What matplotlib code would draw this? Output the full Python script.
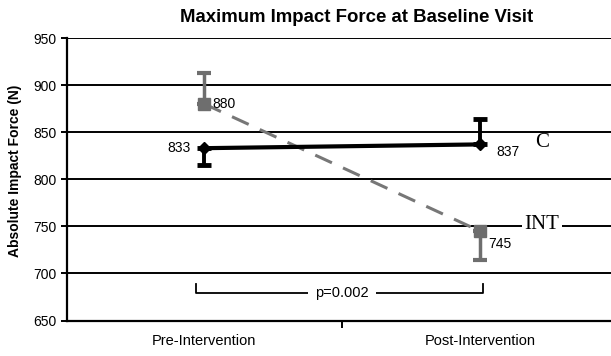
import matplotlib
matplotlib.use("Agg")
import matplotlib.pyplot as plt

categories = ["Pre-Intervention", "Post-Intervention"]
c_values = [833, 837]
c_err_lower = [18, 0]
c_err_upper = [0, 27]
int_values = [880, 745]
int_err_lower = [0, 31]
int_err_upper = [33, 0]
y_ticks = [650, 700, 750, 800, 850, 900, 950]
p_label = "p=0.002"

plt.rcParams['font.family'] = ['Liberation Sans', 'DejaVu Sans']

fig = plt.figure(figsize=(6.11, 3.56), dpi=100)
W, H = 611, 356
left_px, right_px, top_px, bot_px = 66.5, 611, 38, 320.5
ax = fig.add_axes([left_px / W, 1 - bot_px / H, (right_px - left_px) / W, (bot_px - top_px) / H])

ax.set_ylim(650, 950)
ax.set_xlim(-0.5, 1.476)
ax.set_yticks(y_ticks)
ax.set_yticklabels([str(v) for v in y_ticks], fontsize=10)
for v in y_ticks:
    ax.axhline(v, color='black', lw=1.4, zorder=1)

ax.set_xticks([0.5])
ax.set_xticklabels([""])
ax.tick_params(axis='x', length=5, width=1.4, direction='out')
ax.tick_params(axis='y', length=4, width=1.4, direction='out', pad=3)
for i, c in enumerate(categories):
    ax.text(i, -0.071, c, transform=ax.get_xaxis_transform(), ha='center', va='center', fontsize=10.5)

for s in ['top', 'right']:
    ax.spines[s].set_visible(False)
ax.spines['left'].set_linewidth(1.6)
ax.spines['bottom'].set_linewidth(1.6)

x = [0, 1]
# INT series
ax.errorbar(x, int_values, yerr=[int_err_lower, int_err_upper], fmt='none',
            ecolor='#6e6e6e', elinewidth=2.5, capsize=5, capthick=3, zorder=3)
ax.plot(x, int_values, color='#777777', lw=2.2, ls=(0, (6, 4)), zorder=3)
ax.plot(x, int_values, ls='none', marker='s', ms=8.5, color='#6e6e6e', zorder=4)
# C series
ax.errorbar(x, c_values, yerr=[c_err_lower, c_err_upper], fmt='none',
            ecolor='black', elinewidth=2.8, capsize=5, capthick=3.5, zorder=5)
ax.plot(x, c_values, color='black', lw=3, marker='D', ms=6, zorder=6)

# value labels
ax.text(0.03, int_values[0], str(int_values[0]), ha='left', va='center', fontsize=10, zorder=7)
ax.text(-0.05, c_values[0], str(c_values[0]), ha='right', va='center', fontsize=10, zorder=7)
ax.text(1.06, c_values[1] - 8, str(c_values[1]), ha='left', va='center', fontsize=10, zorder=7)
ax.text(1.03, int_values[1] - 14, str(int_values[1]), ha='left', va='center', fontsize=10, zorder=7)

# series names
ax.text(1.226, 839, "C", ha='center', va='center', fontsize=15, family='Liberation Serif', zorder=7)
ax.text(1.226, 752, "INT", ha='center', va='center', fontsize=15, family='Liberation Serif', zorder=7,
        bbox=dict(facecolor='white', edgecolor='none', pad=2))

# significance bracket
yb, yt = 679, 689
ax.plot([-0.03, -0.03, 1.01, 1.01], [yt, yb, yb, yt], color='black', lw=1.3, zorder=2)
ax.text(0.5, yb, p_label, ha='center', va='center', fontsize=10.5, zorder=7,
        bbox=dict(facecolor='white', edgecolor='none', pad=5))

fig.text(357 / W, 1 - 17 / H, "Maximum Impact Force at Baseline Visit", ha='center', va='center',
         fontsize=13.4, fontweight='bold')
fig.text(15 / W, 1 - 171 / H, "Absolute Impact Force (N)", ha='center', va='center',
         rotation=90, fontsize=10, fontweight='bold')

fig.savefig("out.png", dpi=100)
